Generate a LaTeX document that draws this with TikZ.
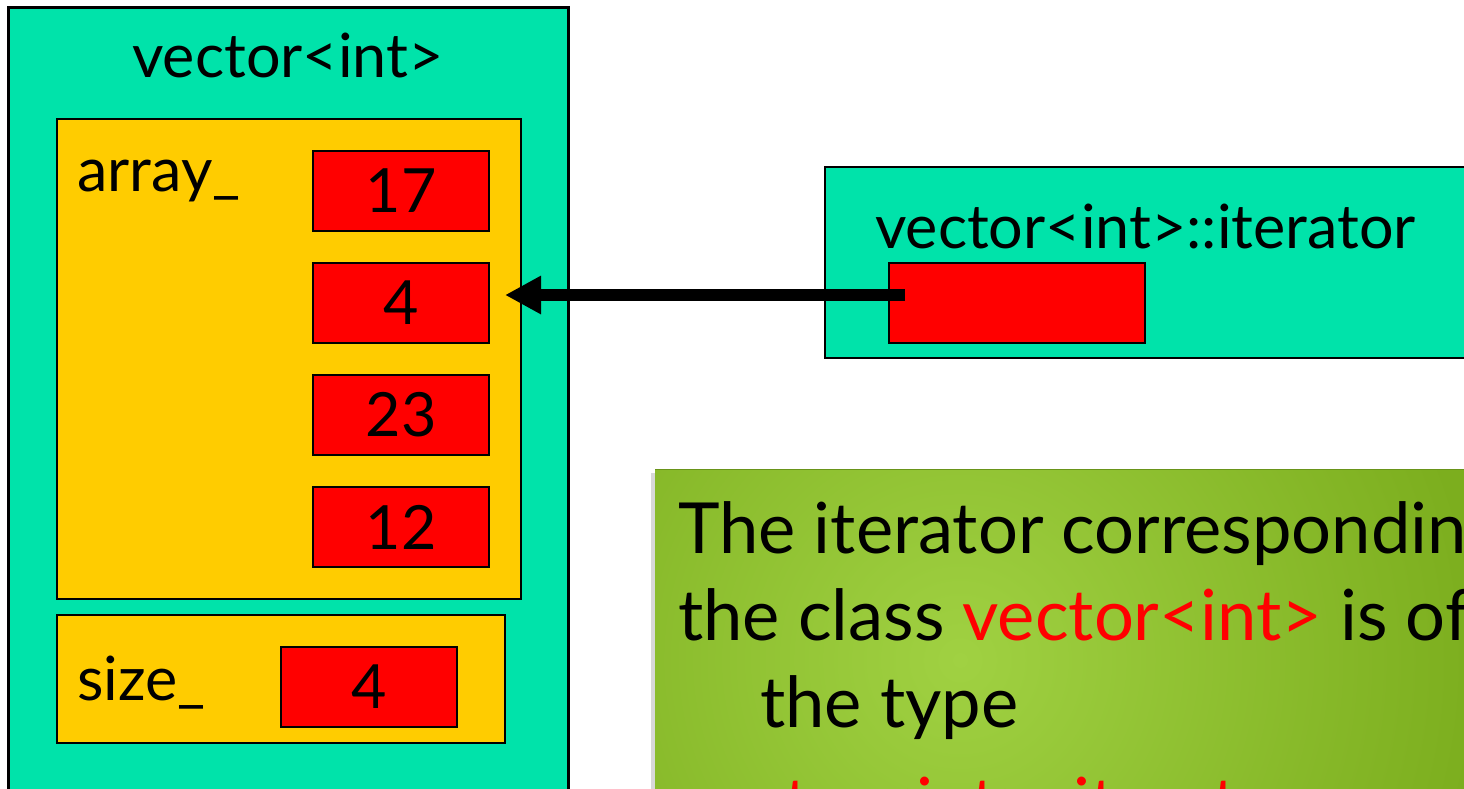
\documentclass[tikz,border=0pt]{standalone}
\usepackage{fontspec}
\setmainfont{Lato}
\usetikzlibrary{arrows.meta,shadows,calc}
\definecolor{boxgreen}{RGB}{0,227,170}
\definecolor{boxyellow}{RGB}{255,204,0}
\definecolor{cellred}{RGB}{255,0,0}
\definecolor{notedark}{RGB}{124,174,30}
\definecolor{notelight}{RGB}{160,209,66}
\newcommand{\labfont}{\fontsize{61}{66}\selectfont}
\newcommand{\notefont}{\fontsize{70.5}{80}\selectfont}
\begin{document}
\begin{tikzpicture}[x=1pt,y=-1pt,
  frame/.style={draw=black,line width=2.5pt,inner sep=0pt,outer sep=0pt,anchor=north west},
  cell/.style={draw=black,line width=2pt,fill=cellred,inner sep=0pt,outer sep=0pt,
    minimum width=176pt,minimum height=80pt,font=\labfont},
  lbl/.style={anchor=base west,inner sep=0pt,font=\labfont},
  big/.style={anchor=base west,inner sep=0pt,font=\notefont}]
\useasboundingbox (0,0) rectangle (1464,788);
\clip (0,0) rectangle (1464,788);
\fill[white] (0,0) rectangle (1464,788);

% vector<int> object
\node[frame,fill=boxgreen,minimum width=560pt,minimum height=830pt] (vec) at (8.5,7.5) {};
\node[anchor=base,inner sep=0pt,font=\labfont] (title) at (288,77) {vector<int>};

\node[frame,fill=boxyellow,minimum width=464pt,minimum height=480pt] (arr) at (57,119) {};
\node[lbl] (arrlbl) at (77,191) {array\_};
\node[cell] (c1) at (401,191) {17};
\node[cell] (c2) at (401,303) {4};
\node[cell] (c3) at (401,415) {23};
\node[cell] (c4) at (401,527) {12};

\node[frame,fill=boxyellow,minimum width=448pt,minimum height=128pt] (sz) at (57,615) {};
\node[lbl] (szlbl) at (77,700) {size\_};
\node[cell] (szc) at (369,687) {4};

% iterator object
\node[frame,fill=boxgreen,minimum width=700pt,minimum height=191pt] (it) at (825,167) {};
\node[lbl] (itlbl) at (875,248) {vector<int>::iterator};
\node[cell,minimum width=256pt] (itc) at (1017,303) {};

\coordinate (as) at ($(itc.west)+(16,-8)$);
\coordinate (ae) at ($(c2.east)+(0,-8)$);
\draw[line width=12pt,-{Triangle[length=36pt,width=36pt]},shorten >=16pt] (as) -- (ae);

% note box
\node[anchor=north west,inner sep=0pt,outer sep=0pt,minimum width=860pt,minimum height=450pt,
  fill=notedark,draw=notedark!85!black,line width=1pt,
  drop shadow={shadow xshift=-4pt,shadow yshift=-4pt,opacity=0.3}] (note) at (655,469) {};
\begin{scope}
  \clip (note.north west) rectangle (note.south east);
  \shade[inner color=notelight,outer color=notedark] (960,660) circle (520);
\end{scope}
\draw[draw=notedark!85!black,line width=1pt] (note.north west) -- (note.north east);
\node[big] (l1) at (678,553) {The iterator corresponding to};
\node[big] (l2) at (678,640) {the class \textcolor{cellred}{vector<int>} is of};
\node[big] (l3) at (760,727) {the type};
\node[big] (l4) at (678,828) {\textcolor{cellred}{vector<int>::iterator}};
\end{tikzpicture}
\end{document}
